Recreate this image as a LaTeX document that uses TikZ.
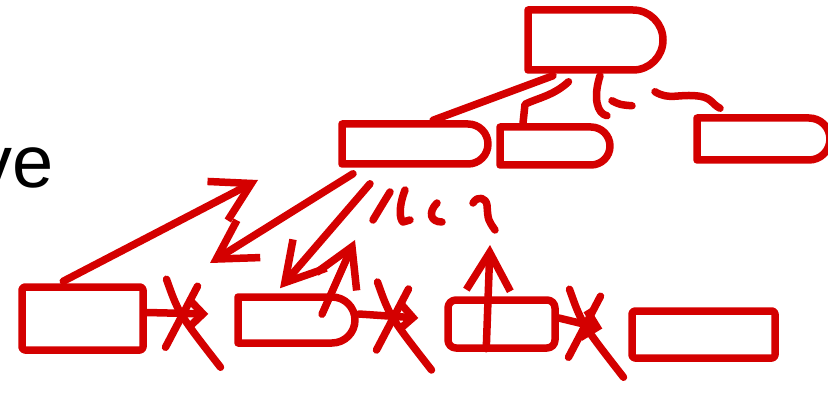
\documentclass[tikz,border=0pt]{standalone}
\usepackage{fontspec}
\setmainfont{Liberation Sans}
\usetikzlibrary{arrows.meta, calc, shapes.misc}
\definecolor{inkred}{RGB}{212,0,0}
\tikzset{
  ink/.style={draw=inkred, line width=7.5pt, line cap=round, line join=round},
  keybox/.style={ink, rectangle, rounded corners=3pt, inner sep=0pt},
  roundbox/.style={ink, rounded rectangle, rounded rectangle west arc=none, inner sep=0pt},
  inkarrow/.style={ink, -{Straight Barb[length=38pt, width=44pt]}},
  linkarrow/.style={ink, -{Straight Barb[length=14pt, width=28pt]}},
}

\begin{document}
\begin{tikzpicture}[x=1pt, y=-1pt]
  \useasboundingbox (0,0) rectangle (828,393);
  % leftover word
  \node[anchor=base east, inner sep=0pt, font=\fontsize{74}{80}\selectfont] (word) at (54,188) {ve};
  % root and inner level
  \node[roundbox, minimum width=135pt, minimum height=60pt] (root) at (595.5,40) {};
  \node[roundbox, minimum width=146pt, minimum height=40pt] (inner1) at (415,144) {};
  \node[roundbox, minimum width=110pt, minimum height=38pt] (inner2) at (555,146) {};
  \node[roundbox, minimum width=133pt, minimum height=42pt] (inner3) at (763.5,139) {};
  % leaf level
  \node[keybox, minimum width=121pt, minimum height=63pt] (leafA) at (82.5,318.5) {};
  \node[roundbox, minimum width=117pt, minimum height=46pt] (leafB) at (296.5,320) {};
  \node[keybox, rounded corners=8pt, minimum width=107pt, minimum height=48pt] (leafC) at (501.5,324) {};
  \node[keybox, minimum width=143pt, minimum height=47pt] (leafD) at (703.5,334.5) {};
  % free ends of the arrows
  \coordinate (tipA) at (210,263);
  \coordinate (tipB) at (258,180);
  \coordinate (tipC) at (355,240);
  \coordinate (tipD) at (490,245);

  % root to children
  \draw[ink] ($(root.south)+(-42.5,2)$) -- ($(inner1.north)+(18,0)$);
  \draw[ink] ($(root.south)+(-27,8)$) .. controls +(-15,14) and +(12,-6) .. ($(inner2.north)+(-30,-19)$) -- ($(inner2.north)+(-32,0)$);
  \draw[ink] ($(root.south)+(4.5,2)$) .. controls +(-7,22) and +(-10,-2) .. ($(root.south)+(11.5,42)$);
  \draw[ink] ($(root.south)+(16.5,27)$) .. controls +(8,4) .. ($(root.south)+(36.5,32)$);
  \draw[ink] ($(root.south)+(59.5,18)$) .. controls +(15,9) and +(-22,-3) .. ($(inner3.north)+(-63.5,-18)$) .. controls +(12,2) and +(-8,-4) .. ($(inner3.north)+(-43.5,-6)$);

  % arrows between inner1 and the leaves
  \draw[inkarrow] ($(inner1.south)+(-62,6)$) -- (tipA);
  \draw[inkarrow] ($(inner1.south)+(-45,16)$) -- ($(leafB.north)+(-16.5,-5)$);
  \draw[inkarrow] ($(leafB.north)+(25.5,21)$) -- (tipC);
  \draw[inkarrow] ($(leafA.north west)+(45,-2)$) -- (tipB);
  \draw[inkarrow] ($(leafC.south west)+(42,-3)$) -- (tipD);

  % small marks under inner1
  \draw[ink] (390,192) .. controls (382,205) .. (373,220);
  \draw[ink] (405,190) .. controls (398,208) and (400,220) .. (403,222) -- (410,220);
  \draw[ink] (437,203) .. controls (428,212) and (430,222) .. (442,222);
  \draw[ink] (473,203) .. controls (478,195) and (486,198) .. (487,205) .. controls (488,220) .. (495,230);

  % crossed out links between the leaves
  \foreach \a/\b in {leafA/leafB, leafB/leafC, leafC/leafD} {
    \coordinate (gap) at ($(\a.east)!0.5!(\b.west)$);
    \draw[linkarrow] ($(\a.east)+(0,-6)$) -- ($(\b.west)+(-26,-6)$);
    \draw[ink] ($(gap)+(-24,-40)$) .. controls ($(gap)+(-12,-6)$) .. ($(gap)+(30,48)$);
    \draw[ink] ($(gap)+(7,-33)$) -- ($(gap)+(-25,28)$);
  }
\end{tikzpicture}
\end{document}
